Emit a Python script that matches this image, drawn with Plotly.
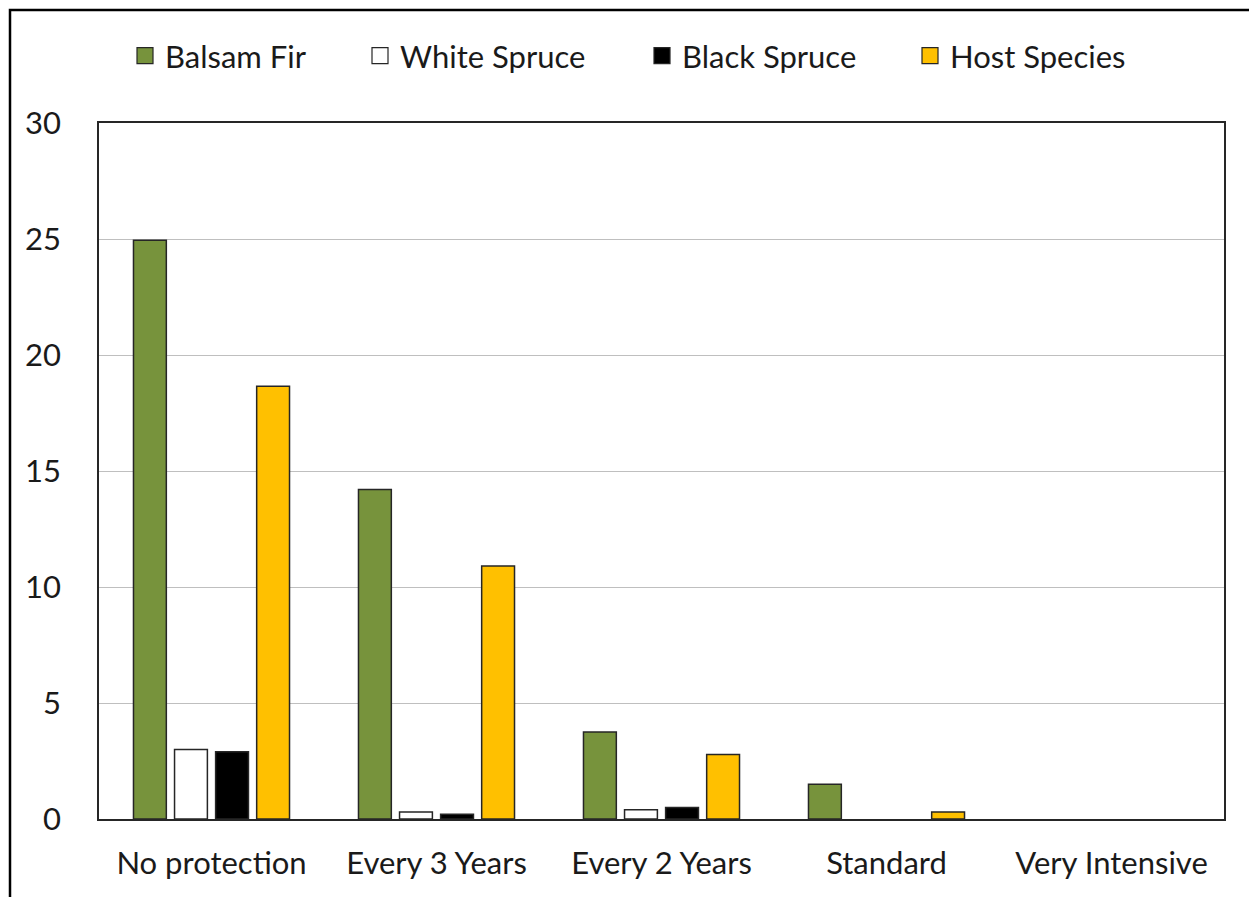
import plotly.graph_objects as go

categories = ["No protection", "Every 3 Years", "Every 2 Years", "Standard", "Very Intensive"]
balsam_fir = [24.95, 14.2, 3.75, 1.5, 0]
white_spruce = [3.0, 0.3, 0.4, 0, 0]
black_spruce = [2.9, 0.2, 0.5, 0, 0]
host_species = [18.65, 10.9, 2.78, 0.3, 0]

series = [
    ("Balsam Fir", balsam_fir, "#77933C"),
    ("White Spruce", white_spruce, "#FFFFFF"),
    ("Black Spruce", black_spruce, "#000000"),
    ("Host Species", host_species, "#FFC000"),
]
# legend marker centres (px from left of page)
legend_px = [144, 379, 661, 929]

FONT = "Lato"
FS = 31
W, H = 1249, 897
L, R, T, B = 99, 25, 123, 78
pw, ph = W - L - R, H - T - B

fig = go.Figure()
legends = {}
for i, (name, vals, col) in enumerate(series):
    lname = "legend" if i == 0 else f"legend{i+1}"
    fig.add_trace(go.Bar(
        x=categories, y=vals, name=name, showlegend=False,
        marker=dict(color=col, line=dict(color="#262626",
                                         width=[1.5 if v > 0 else 0 for v in vals])),
    ))
    fig.add_trace(go.Scatter(
        x=[None], y=[None], mode="markers", name=name, legend=lname,
        marker=dict(symbol="square", size=17, color=col, line=dict(color="#262626", width=1.2)),
    ))
    legends[lname] = dict(orientation="h", x=(legend_px[i] - 19 - L) / pw, xanchor="left",
                          y=(H - B - 56) / ph, yanchor="middle",
                          font=dict(size=FS, family=FONT, color="#1a1a1a"),
                          bgcolor="rgba(0,0,0,0)")

fig.update_layout(
    width=W, height=H,
    margin=dict(l=L, r=R, t=T, b=B),
    paper_bgcolor="white", plot_bgcolor="white",
    barmode="group", bargap=0.27, bargroupgap=0.2,
    font=dict(family=FONT, size=FS, color="#1a1a1a"),
    xaxis=dict(showline=True, linecolor="#262626", linewidth=1.5, mirror=True,
               ticks="", ticklabelstandoff=16, tickfont=dict(size=FS)),
    yaxis=dict(range=[0, 30], dtick=5, showgrid=True, gridcolor="#bfbfbf", gridwidth=1.2,
               showline=True, linecolor="#262626", linewidth=1.5, mirror=True,
               zeroline=False, ticks="", ticklabelstandoff=30, tickfont=dict(size=FS)),
    shapes=[dict(type="rect", xref="paper", yref="paper",
                 x0=(10 - L) / pw, x1=(W + 20 - L) / pw,
                 y0=(H - B - (H + 20)) / ph, y1=(H - B - 10) / ph,
                 line=dict(color="black", width=2.5), fillcolor="rgba(0,0,0,0)", layer="below")],
    **legends,
)

fig.write_html("out.html")
